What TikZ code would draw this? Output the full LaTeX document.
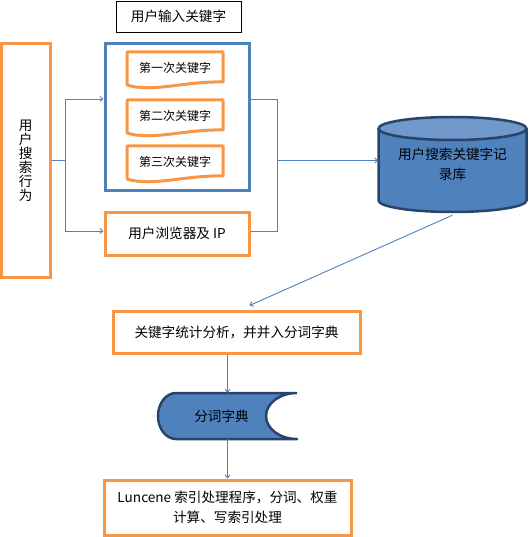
\documentclass[tikz,border=0pt]{standalone}
\usepackage{fontspec}
\setmainfont{Noto Sans CJK SC}
\usetikzlibrary{arrows.meta,positioning,calc}
\definecolor{boxorange}{RGB}{247,150,70}
\definecolor{linkblue}{RGB}{79,129,189}
\definecolor{dbtop}{RGB}{112,152,202}
\definecolor{dbedge}{RGB}{40,68,104}

\begin{document}
\begin{tikzpicture}[x=1pt,y=-1pt,
    txt/.style={font=\fontsize{13.6}{20}\selectfont, align=center, inner sep=0pt},
    obox/.style={txt, draw=boxorange, line width=3pt},
    bbox/.style={draw=linkblue, line width=3pt},
    link/.style={draw=linkblue, line width=0.9pt},
    arr/.style={link, -{Straight Barb[length=3pt,width=5pt]}},
    docline/.style={draw=boxorange, line width=3pt, line join=round}]
    \useasboundingbox (0,0) rectangle (528,537);

    % Title
    \node[txt, draw=black, line width=0.9pt, minimum width=125, minimum height=31] (title) at (178.5,16.5) {用户输入关键字};

    % User behaviour (vertical text)
    \node[obox, font=\fontsize{13.6}{14}\selectfont, minimum width=48.5, minimum height=233] (behav) at (25.75,160.5) {用\\户\\搜\\索\\行\\为};

    % Keyword group and documents
    \node[bbox, minimum width=144, minimum height=147] (kwgroup) at (177,117.5) {};
    \foreach \n/\y/\t in {1/52/第一次关键字, 2/100/第二次关键字, 3/146/第三次关键字} {
        \draw[docline] (127,\y) -- (223,\y) -- (223,\y+30)
            .. controls (185,\y+29) and (152,\y+41) .. (127,\y+33) -- cycle;
        \node[txt, font=\fontsize{12}{14}\selectfont] (kw\n) at (175,\y+16) {\t};
    }

    % Browser and IP
    \node[obox, minimum width=144, minimum height=43] (browser) at (177,233.5) {用户浏览器及 IP};

    % Keyword database (cylinder)
    \fill[linkblue] (378.5,128.5) -- (378.5,200.5)
        arc[start angle=180, end angle=0, x radius=74, y radius=11.5] -- (526.5,128.5) -- cycle;
    \draw[dbedge, line width=2.5pt] (378.5,128.5) -- (378.5,200.5)
        arc[start angle=180, end angle=0, x radius=74, y radius=11.5] -- (526.5,128.5);
    \draw[dbedge, line width=2.5pt, fill=dbtop] (452.5,128.5) ellipse[x radius=74, y radius=11.5];
    \node[txt, minimum width=148, minimum height=95] (db) at (452.5,164.5) {用户搜索关键字记\\录库};

    % Statistics box
    \node[obox, minimum width=247, minimum height=42] (stat) at (236.5,332) {关键字统计分析，并并入分词字典};

    % Stored dictionary
    \fill[linkblue] (297,393) -- (176,393)
        arc[start angle=-90, end angle=-270, x radius=18, y radius=23] -- (297,439)
        arc[start angle=90, end angle=270, x radius=31, y radius=23] -- cycle;
    \draw[dbedge, line width=2.5pt, line join=round] (297,393) -- (176,393)
        arc[start angle=-90, end angle=-270, x radius=18, y radius=23] -- (297,439)
        arc[start angle=90, end angle=270, x radius=31, y radius=23];
    \node[txt, minimum width=139, minimum height=46] (store) at (227.5,416) {\hspace*{-12pt}分词字典};

    % Index processing
    \node[obox, minimum width=247, minimum height=55] (index) at (227.5,507.5) {Luncene 索引处理程序，分词、权重\\计算、写索引处理};

    % Connectors
    \coordinate (split) at (65,160.5);
    \coordinate (merge) at (277,160.5);
    \draw[link] (behav.east) -- (split);
    \draw[arr] (split) |- ([yshift=18.5pt]kwgroup.west);
    \draw[arr] (split) |- ([yshift=2.5pt]browser.west);
    \draw[link] ([yshift=18.5pt]kwgroup.east) -| (merge);
    \draw[link] ([yshift=2.5pt]browser.east) -| (merge);
    \draw[arr] (merge) -- (merge -| db.west);
    \draw[arr] ([yshift=-3pt]db.south) -- ([xshift=13pt,yshift=4pt]stat.north);
    \draw[arr] (stat.south -| store.north) -- (store.north);
    \draw[arr] (store.south) -- (index.north);
\end{tikzpicture}
\end{document}
